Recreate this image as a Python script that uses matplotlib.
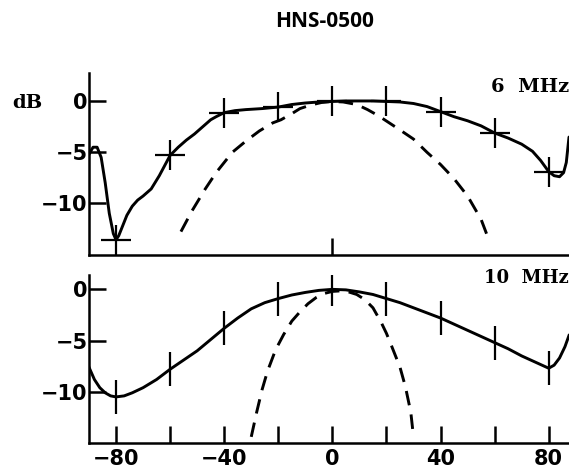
import matplotlib
matplotlib.use("Agg")
import matplotlib.pyplot as plt

# ---------------- data ----------------
title_text = "HNS-0500"
freq_top = "6  MHz"
freq_bot = "10  MHz"

top_solid_x = [-90, -88.5, -87, -85.5, -84, -82.5, -81, -80, -79, -77.5, -76, -74, -72, -70, -67, -64,
               -62, -60, -57, -54, -51, -48, -45, -43, -40, -36, -32, -26, -20, -15, -10, -5, 0,
               5, 10, 15, 20, 25, 30, 35, 40, 45, 50, 55, 60, 65, 70, 74, 77, 80, 82, 84, 85.5, 86.5, 87.5]
top_solid_y = [-5.2, -4.5, -4.5, -5.5, -8.0, -11.0, -13.0, -13.6, -13.2, -12.2, -11.2, -10.3, -9.7, -9.3, -8.6, -7.3,
               -6.3, -5.3, -4.5, -3.8, -3.2, -2.5, -1.8, -1.5, -1.1, -0.9, -0.8, -0.7, -0.55, -0.3, -0.15, -0.05, 0.0,
               0.05, 0.05, 0.05, 0.0, -0.05, -0.2, -0.5, -1.0, -1.5, -1.9, -2.4, -3.1, -3.6, -4.2, -4.9, -5.8, -6.9, -7.3, -7.4, -7.0, -6.0, -3.5]

top_dash_x = [-56, -52, -47, -43, -37, -32, -27, -22, -19, -15, -12, -8, -4, 0, 4, 9, 13, 17, 21, 25, 30, 35, 40, 45, 50, 55, 58]
top_dash_y = [-12.8, -10.8, -8.6, -7.0, -5.0, -3.9, -2.9, -2.1, -1.8, -1.2, -0.7, -0.35, -0.1, 0.0, -0.05, -0.3, -0.8,
              -1.4, -2.1, -2.8, -3.7, -5.0, -6.2, -7.6, -9.3, -11.6, -13.7]

top_mark_x = [-80, -60, -40, -20, 0, 20, 40, 60, 80]
top_mark_y = [-13.6, -5.3, -1.1, -0.55, 0.0, 0.0, -1.0, -3.1, -6.9]

bot_solid_x = [-90, -88, -86, -84, -82, -80, -77, -74, -70, -65, -60, -55, -50, -45, -40, -35, -30, -25, -20,
               -15, -10, -5, 0, 5, 10, 15, 20, 25, 30, 35, 40, 45, 50, 55, 60, 65, 70, 75, 80, 82, 84, 86, 87.5]
bot_solid_y = [-7.6, -8.8, -9.6, -10.1, -10.4, -10.5, -10.4, -10.1, -9.6, -8.8, -7.8, -6.9, -6.0, -4.9, -3.8,
               -2.8, -1.9, -1.3, -0.9, -0.55, -0.3, -0.1, 0.0, -0.05, -0.25, -0.5, -0.9, -1.3, -1.8, -2.3, -2.8,
               -3.4, -4.0, -4.6, -5.2, -5.8, -6.5, -7.1, -7.7, -7.4, -6.7, -5.6, -4.5]

bot_dash_x = [-30, -28, -26, -24, -21, -18, -15, -12, -9, -6, -3, 0, 3, 6, 9, 12, 15, 18, 20, 22, 25, 27, 29, 30]
bot_dash_y = [-14.4, -12.0, -9.8, -8.0, -5.9, -4.4, -3.1, -2.2, -1.4, -0.8, -0.4, -0.2, -0.15, -0.25, -0.5,
              -1.0, -1.8, -3.2, -4.3, -5.6, -7.6, -9.5, -12.0, -14.4]

bot_mark_x = [-80, -60, -40, -20, 0, 20, 40, 60, 80]
bot_mark_y = [-10.5, -7.8, -3.8, -0.9, 0.0, -0.9, -2.8, -5.2, -7.7]

y_ticks = [0, -5, -10]
y_tick_labels = ["0", "\u22125", "\u221210"]
x_ticks = [-80, -60, -40, -20, 0, 20, 40, 60, 80]
x_tick_labels = ["\u221280", "", "\u221240", "", "0", "", "40", "", "80"]

# ---------------- figure ----------------
fig = plt.figure(figsize=(5.69, 4.74), dpi=100)
ax1 = fig.add_axes([0.1564, 0.4620, 0.8436, 0.3840])
ax2 = fig.add_axes([0.1564, 0.0654, 0.8436, 0.3544])

num_font = dict(family=['DejaVu Sans'], weight='bold', size=15)
serif_font = dict(family=['DejaVu Serif'], weight='bold', size=14)

for ax in (ax1, ax2):
    for s in ('top', 'right'):
        ax.spines[s].set_visible(False)
    for s in ('left', 'bottom'):
        ax.spines[s].set_linewidth(1.8)
        ax.spines[s].set_color('black')
    ax.set_xlim(-90, 87.5)
    ax.set_yticks(y_ticks)
    ax.set_yticklabels(y_tick_labels, fontdict=num_font)
    ax.tick_params(axis='both', direction='in', width=1.8, color='black')
    ax.tick_params(axis='y', length=12, pad=1)
    ax.tick_params(axis='x', length=12, pad=4)

ax1.set_ylim(-15.1, 2.8)
ax2.set_ylim(-15.0, 1.4)

# top panel
ax1.plot(top_solid_x, top_solid_y, color='black', lw=2.1, solid_capstyle='round')
ax1.plot(top_dash_x, top_dash_y, color='black', lw=2.1, dashes=(5, 3.2))
ax1.plot(top_mark_x, top_mark_y, ls='none', marker='+', ms=22, mew=1.6, color='black')
ax1.set_xticks([0])
ax1.set_xticklabels([""])

# bottom panel
ax2.plot(bot_solid_x, bot_solid_y, color='black', lw=2.1)
ax2.plot(bot_dash_x, bot_dash_y, color='black', lw=2.1, dashes=(5, 3.2))
ax2.plot(bot_mark_x, bot_mark_y, ls='none', marker='|', ms=24, mew=1.6, color='black')
ax2.set_xticks(x_ticks)
ax2.set_xticklabels(x_tick_labels, fontdict=num_font)

# texts
fig.text(0.57, 0.955, title_text, ha='center', va='center',
         family=['Open Sans', 'DejaVu Sans'], weight='bold', size=15)
ax1.text(1.0, 0.925, freq_top, transform=ax1.transAxes, ha='right', va='center', **serif_font)
ax2.text(1.0, 0.985, freq_bot, transform=ax2.transAxes, ha='right', va='center',
         family=['DejaVu Serif'], weight='bold', size=13)
fig.text(0.048, 0.783, "dB", ha='center', va='center', **serif_font)

fig.savefig("out.png", dpi=100)
